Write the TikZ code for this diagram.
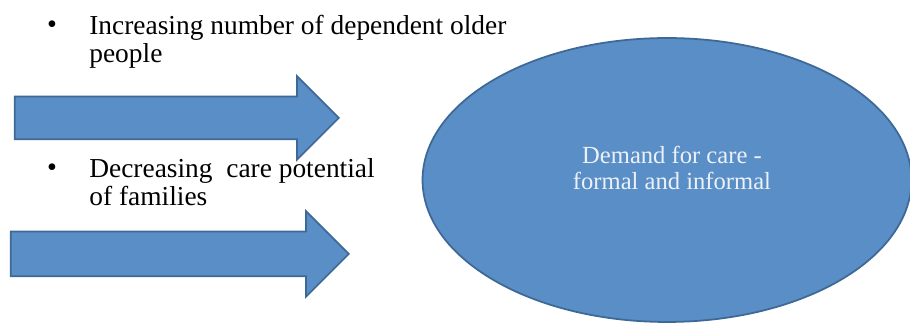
\documentclass[tikz,border=0pt]{standalone}
\usepackage{fontspec}
\setmainfont{Liberation Serif}
\usetikzlibrary{shapes.arrows,shapes.geometric,positioning}
\definecolor{careblue}{RGB}{89,142,198}
\definecolor{careedge}{RGB}{62,104,150}
\definecolor{caretext}{RGB}{236,241,248}

\begin{document}
\begin{tikzpicture}[
		x=0.02cm, y=-0.02cm,
		bigarrow/.style={single arrow, draw=careedge, fill=careblue, line width=1pt, inner xsep=0pt, anchor=tip, single arrow head extend=0.41cm, single arrow tip angle=90},
		dot/.style={inner sep=0pt, anchor=base, font=\fontsize{16}{17}\selectfont},
		item/.style={align=left, inner sep=0pt, anchor=base west, font=\fontsize{15.6}{16.5}\selectfont}
	]
  \useasboundingbox (0,0) rectangle (910,323);
  % the demand
  \node (care) [ellipse, draw=careedge, fill=careblue, line width=1pt, minimum width=9.78cm, minimum height=5.68cm] at (667,180) {};
  \node (care_label) [align=center, text=caretext, font=\fontsize{14}{15.3}\selectfont] at ([xshift=0.1cm, yshift=0.24cm]care.center) {Demand for care -\\formal and informal};
  % the two drivers (base anchor sits on the last line)
  \node (dot_old) [dot] at (52,34) {\textbullet};
  \node (older) [item] at (89,63) {Increasing number of dependent older\\people};
  \node (arrow_old) [bigarrow, inner ysep=0.41cm, minimum height=6.48cm] at (340,118) {};
  \node (dot_fam) [dot] at (52,177) {\textbullet};
  \node (families) [item] at (89,206) {Decreasing\ \ care potential\\of families};
  \node (arrow_fam) [bigarrow, inner ysep=0.43cm, minimum height=6.76cm] at (350,254) {};
\end{tikzpicture}
\end{document}
